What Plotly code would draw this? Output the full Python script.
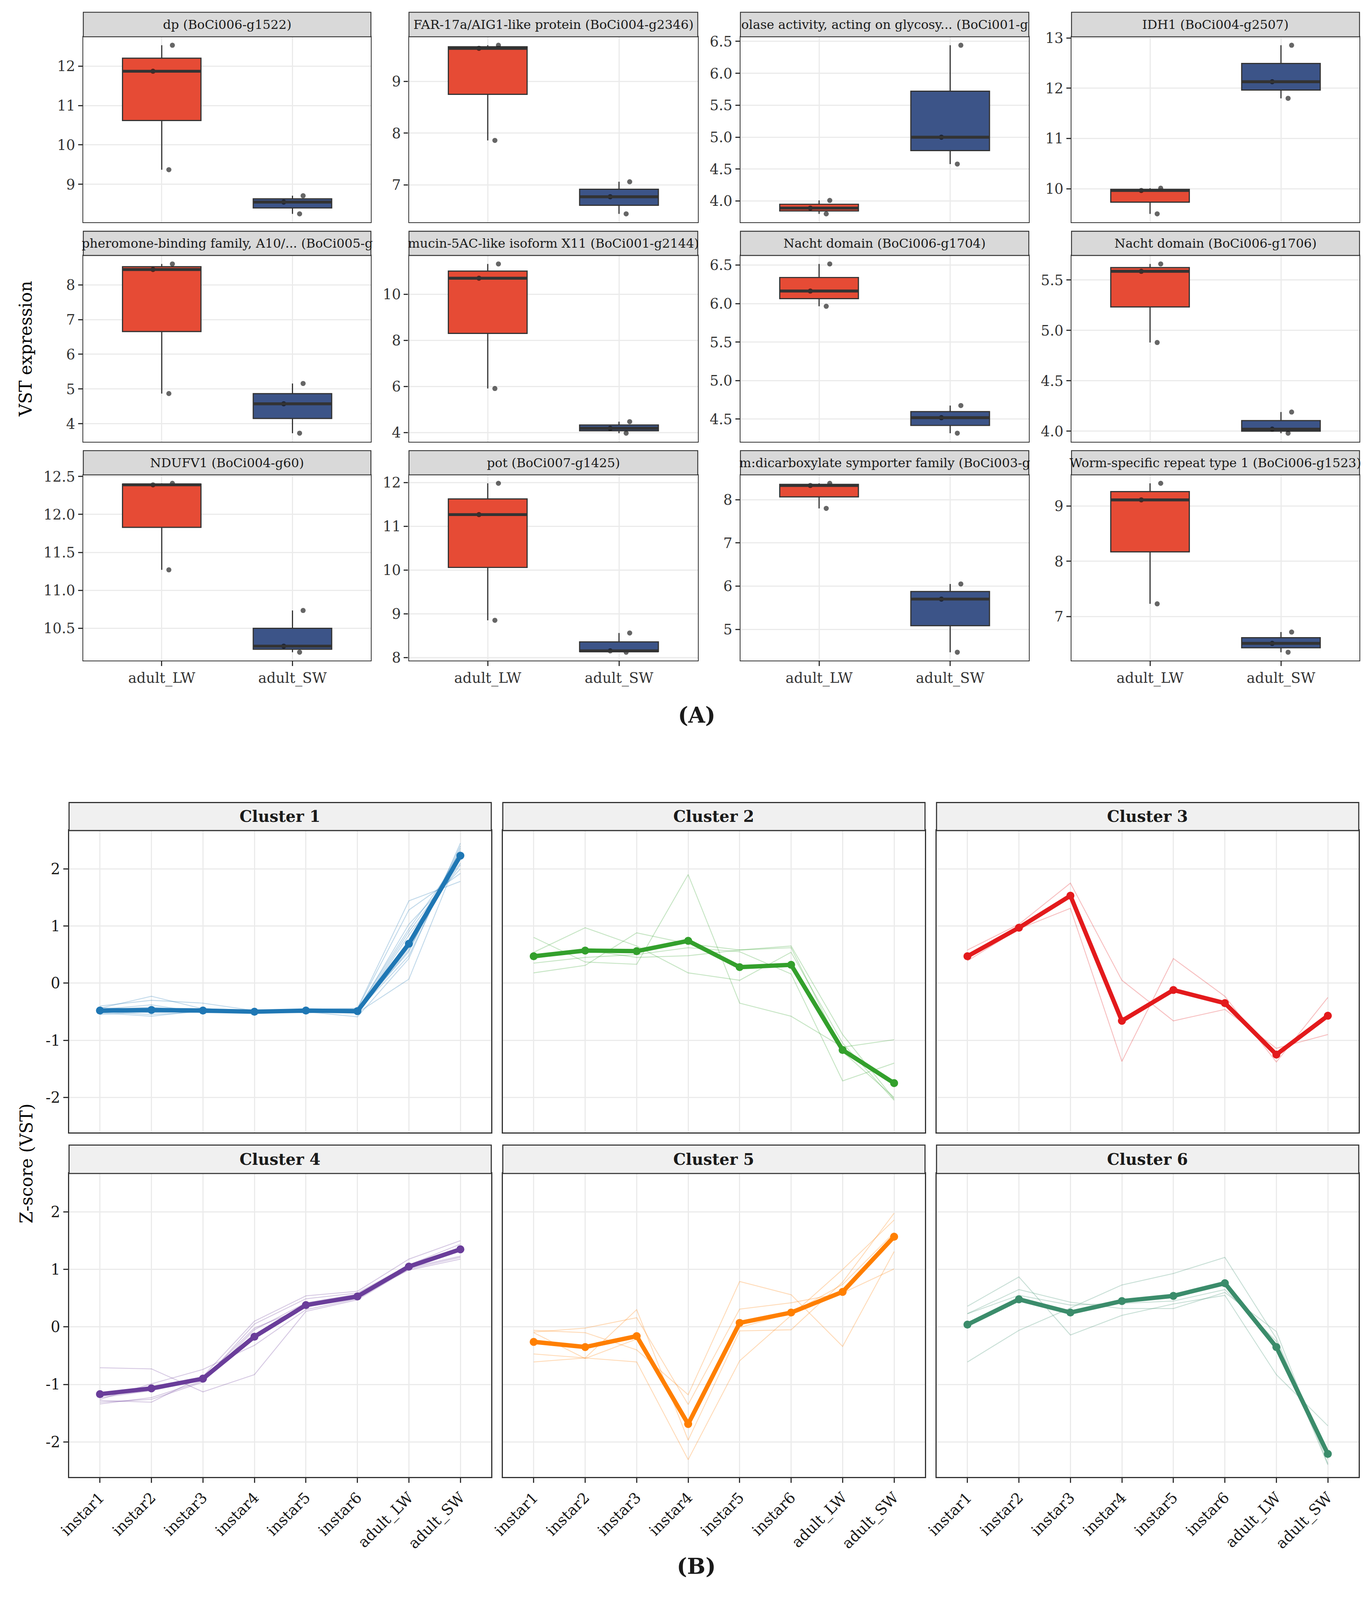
import numpy as np
import plotly.graph_objects as go

# Reference layout grid (all positions below are given in this 3506 x 4536 frame
# and converted to paper fractions, so the figure can be sized to fit the window)
W, H = 3506, 4536
FIG_W, FIG_H = 3480, 4050
S = 0.93   # scale for line widths / marker sizes
SF = 0.96  # scale for font sizes
FONT = "DejaVu Serif"

# ---------------- Panel A data ----------------
GROUPS = ["adult_LW", "adult_SW"]
GENE_TITLES = [
    "dp (BoCi006-g1522)",
    "FAR-17a/AIG1-like protein (BoCi004-g2346)",
    "olase activity, acting on glycosy... (BoCi001-g",
    "IDH1 (BoCi004-g2507)",
    "pheromone-binding family, A10/... (BoCi005-g",
    "mucin-5AC-like isoform X11 (BoCi001-g2144)",
    "Nacht domain (BoCi006-g1704)",
    "Nacht domain (BoCi006-g1706)",
    "NDUFV1 (BoCi004-g60)",
    "pot (BoCi007-g1425)",
    "m:dicarboxylate symporter family (BoCi003-g",
    "Worm-specific repeat type 1 (BoCi006-g1523)",
]
LW_VST = [
    [9.37, 11.87, 12.53],
    [7.86, 9.64, 9.70],
    [3.80, 3.89, 4.01],
    [9.50, 9.965, 10.01],
    [4.87, 8.44, 8.60],
    [5.91, 10.70, 11.32],
    [5.965, 6.163, 6.515],
    [4.88, 5.587, 5.66],
    [11.27, 12.39, 12.41],
    [8.85, 11.265, 11.98],
    [7.80, 8.33, 8.38],
    [7.23, 9.11, 9.41],
]
SW_VST = [
    [8.25, 8.55, 8.71],
    [6.44, 6.77, 7.06],
    [4.58, 5.00, 6.44],
    [11.80, 12.13, 12.857],
    [3.73, 4.575, 5.16],
    [3.97, 4.18, 4.47],
    [4.317, 4.518, 4.676],
    [3.98, 4.02, 4.19],
    [10.185, 10.265, 10.735],
    [8.12, 8.15, 8.56],
    [4.47, 5.70, 6.05],
    [6.355, 6.515, 6.72],
]
TICK_STEP = [1, 1, 0.5, 1, 1, 2, 0.5, 0.5, 0.5, 1, 1, 1]

# ---------------- Panel B data ----------------
STAGES = ["instar1", "instar2", "instar3", "instar4", "instar5", "instar6", "adult_LW", "adult_SW"]
CLUSTER_NAMES = ["Cluster 1", "Cluster 2", "Cluster 3", "Cluster 4", "Cluster 5", "Cluster 6"]

CLUSTER1_MEAN = [-0.48, -0.47, -0.48, -0.50, -0.48, -0.49, 0.69, 2.23]
CLUSTER1_GENES = [
    [-0.44, -0.23, -0.45, -0.47, -0.46, -0.44, 1.44, 1.78],
    [-0.40, -0.30, -0.35, -0.48, -0.47, -0.45, 1.28, 1.92],
    [-0.50, -0.55, -0.50, -0.50, -0.46, -0.52, 0.07, 2.30],
    [-0.52, -0.58, -0.48, -0.52, -0.50, -0.59, 0.43, 2.45],
    [-0.47, -0.42, -0.50, -0.51, -0.48, -0.49, 0.48, 2.36],
    [-0.55, -0.50, -0.47, -0.49, -0.45, -0.50, 0.58, 2.28],
    [-0.46, -0.38, -0.52, -0.50, -0.49, -0.47, 0.69, 2.17],
    [-0.49, -0.47, -0.46, -0.53, -0.47, -0.50, 0.84, 2.07],
    [-0.45, -0.52, -0.49, -0.48, -0.50, -0.46, 0.95, 2.20],
    [-0.51, -0.45, -0.47, -0.52, -0.51, -0.48, 1.03, 2.00],
    [-0.48, -0.49, -0.51, -0.49, -0.47, -0.51, 0.62, 2.25],
    [-0.43, -0.46, -0.48, -0.50, -0.49, -0.53, 0.75, 2.32],
    [-0.53, -0.44, -0.49, -0.47, -0.48, -0.48, 0.55, 2.40],
    [-0.47, -0.50, -0.44, -0.51, -0.52, -0.49, 0.90, 2.10],
]
CLUSTER2_MEAN = [0.47, 0.57, 0.56, 0.74, 0.28, 0.32, -1.17, -1.75]
CLUSTER2_GENES = [
    [0.80, 0.37, 0.33, 1.90, -0.35, -0.58, -1.12, -0.99],
    [0.54, 0.97, 0.65, 0.18, 0.05, 0.54, -1.05, -2.05],
    [0.18, 0.31, 0.88, 0.69, 0.58, 0.65, -0.90, -2.03],
    [0.43, 0.58, 0.45, 0.48, 0.58, 0.62, -1.20, -2.00],
    [0.35, 0.45, 0.50, 0.62, 0.55, 0.16, -1.71, -1.40],
]
CLUSTER3_MEAN = [0.47, 0.97, 1.53, -0.66, -0.12, -0.35, -1.25, -0.57]
CLUSTER3_GENES = [
    [0.58, 1.03, 1.75, 0.05, -0.66, -0.46, -1.14, -0.90],
    [0.39, 0.95, 1.31, -1.37, 0.43, -0.23, -1.38, -0.25],
    [0.45, 0.97, 1.53, -0.64, -0.13, -0.36, -1.22, -0.56],
]
CLUSTER4_MEAN = [-1.17, -1.07, -0.90, -0.17, 0.38, 0.53, 1.05, 1.35]
CLUSTER4_GENES = [
    [-0.71, -0.73, -1.13, -0.83, 0.27, 0.47, 1.01, 1.21],
    [-1.28, -1.31, -0.86, 0.10, 0.54, 0.62, 1.18, 1.50],
    [-1.34, -1.23, -0.94, 0.05, 0.49, 0.59, 1.08, 1.44],
    [-1.26, -0.99, -0.74, -0.32, 0.30, 0.49, 1.03, 1.23],
    [-1.31, -1.26, -0.96, -0.05, 0.42, 0.57, 1.06, 1.33],
    [-1.23, -1.11, -0.91, -0.02, 0.34, 0.54, 0.99, 1.18],
]
CLUSTER5_MEAN = [-0.26, -0.35, -0.16, -1.69, 0.07, 0.25, 0.61, 1.57]
CLUSTER5_GENES = [
    [-0.06, -0.10, -0.40, -1.18, 0.79, 0.56, -0.34, 1.31],
    [-0.09, -0.02, 0.16, -1.35, 0.31, 0.42, 0.59, 1.01],
    [-0.47, -0.54, 0.30, -1.97, -0.07, -0.05, 0.78, 1.98],
    [-0.61, -0.54, -0.61, -2.31, -0.59, 0.20, 1.00, 1.86],
    [-0.10, -0.55, -0.21, -1.63, -0.01, 0.24, 0.74, 1.64],
]
CLUSTER6_MEAN = [0.04, 0.48, 0.25, 0.45, 0.54, 0.76, -0.35, -2.21]
CLUSTER6_GENES = [
    [0.36, 0.87, -0.14, 0.20, 0.40, 0.55, -0.83, -1.72],
    [-0.61, -0.06, 0.33, 0.73, 0.93, 1.21, -0.20, -2.30],
    [0.23, 0.65, 0.43, 0.32, 0.32, 0.60, -0.08, -2.38],
    [0.23, 0.55, 0.38, 0.41, 0.45, 0.65, -0.25, -2.40],
]
CLUSTER_MEANS = [CLUSTER1_MEAN, CLUSTER2_MEAN, CLUSTER3_MEAN, CLUSTER4_MEAN, CLUSTER5_MEAN, CLUSTER6_MEAN]
CLUSTER_GENES = [CLUSTER1_GENES, CLUSTER2_GENES, CLUSTER3_GENES, CLUSTER4_GENES, CLUSTER5_GENES, CLUSTER6_GENES]

# ---------------- Styling ----------------
RED, BLUE = "#E64B35", "#3C5488"
CLUSTER_COLORS = ["#1F77B4", "#33A02C", "#E31A1C", "#6A3D9A", "#FF7F00", "#3B8C6B"]
DARK = "#333333"
GRID = "#EBEBEB"

A_COLS = [(178, 926), (1025, 1776), (1887, 2637), (2748, 3497)]
A_ROWS = [(6, 77, 613), (639, 709, 1247), (1273, 1343, 1880)]
B_COLS = [(141, 1239), (1269, 2367), (2397, 3495)]
B_ROWS = [(2290, 2371, 3243), (3280, 3362, 4239)]


def xd(x0, x1):
    return [x0 / W, x1 / W]


def yd(y0, y1):
    return [1 - y1 / H, 1 - y0 / H]


def px(v):
    return v * S


def fs(v):
    return v * SF


def rgba(hexc, a):
    h = hexc.lstrip("#")
    return "rgba(%d,%d,%d,%.2f)" % (int(h[0:2], 16), int(h[2:4], 16), int(h[4:6], 16), a)


fig = go.Figure()
layout = {}
shapes = []
annotations = []


def axname(n):
    return ("x" if n == 1 else "x%d" % n), ("y" if n == 1 else "y%d" % n)


# ---------------- Panel A ----------------
for i in range(12):
    n = i + 1
    r, c = divmod(i, 4)
    xa, ya = axname(n)
    for g, vals, col in [(1, LW_VST[i], RED), (2, SW_VST[i], BLUE)]:
        fig.add_trace(go.Box(
            x=[g] * len(vals), y=vals, width=0.6, fillcolor=col,
            line=dict(color=DARK, width=px(3.2)), whiskerwidth=0,
            boxpoints="all", jitter=0.35, pointpos=0, quartilemethod="inclusive",
            marker=dict(color="rgba(0,0,0,0.6)", size=px(14)),
            xaxis=xa, yaxis=ya, showlegend=False, hoverinfo="skip"))
        med = float(np.median(vals))
        fig.add_trace(go.Scatter(
            x=[g - 0.3, g + 0.3], y=[med, med], mode="lines",
            line=dict(color=DARK, width=px(8)), xaxis=xa, yaxis=ya,
            showlegend=False, hoverinfo="skip"))
    allv = LW_VST[i] + SW_VST[i]
    lo, hi = min(allv), max(allv)
    pad = 0.05 * (hi - lo)
    st, sb, pb = A_ROWS[r]
    c0, c1 = A_COLS[c]
    bottom = (r == 2)
    layout["xaxis" + ("" if n == 1 else str(n))] = dict(
        domain=xd(c0, c1), anchor=ya, range=[0.4, 2.6],
        tickvals=[1, 2], ticktext=GROUPS, showticklabels=bottom,
        ticks="outside" if bottom else "", ticklen=px(12), tickwidth=px(3), tickcolor=DARK,
        tickfont=dict(size=fs(38), color=DARK, family=FONT),
        showgrid=True, gridcolor=GRID, gridwidth=px(3.5), zeroline=False,
        showline=True, mirror=True, linecolor=DARK, linewidth=px(2.5))
    step = TICK_STEP[i]
    layout["yaxis" + ("" if n == 1 else str(n))] = dict(
        domain=yd(sb, pb), anchor=xa, range=[lo - pad, hi + pad],
        tick0=0, dtick=step, tickformat=".1f" if step < 1 else "d",
        ticks="outside", ticklen=px(12), tickwidth=px(3), tickcolor=DARK,
        tickfont=dict(size=fs(38), color=DARK, family=FONT),
        showgrid=True, gridcolor=GRID, gridwidth=px(3.5), zeroline=False,
        showline=True, mirror=True, linecolor=DARK, linewidth=px(2.5))
    shapes.append(dict(type="rect", xref="paper", yref="paper",
                       x0=c0 / W, x1=c1 / W, y0=1 - sb / H, y1=1 - st / H,
                       fillcolor="#D9D9D9", line=dict(color=DARK, width=px(2.5))))
    annotations.append(dict(text=GENE_TITLES[i], xref="paper", yref="paper",
                            x=(c0 + c1) / 2 / W, y=1 - (st + sb) / 2 / H,
                            xanchor="center", yanchor="middle", showarrow=False,
                            font=dict(size=fs(33.5), color="#1A1A1A", family=FONT)))

# ---------------- Panel B ----------------
xpos = list(range(1, len(STAGES) + 1))
for k in range(6):
    n = 13 + k
    r, c = divmod(k, 3)
    xa, ya = axname(n)
    col = CLUSTER_COLORS[k]
    for gene in CLUSTER_GENES[k]:
        fig.add_trace(go.Scatter(
            x=xpos, y=gene, mode="lines", line=dict(color=rgba(col, 0.28), width=px(2.5)),
            xaxis=xa, yaxis=ya, showlegend=False, hoverinfo="skip"))
    fig.add_trace(go.Scatter(
        x=xpos, y=CLUSTER_MEANS[k], mode="lines+markers",
        line=dict(color=col, width=px(12)), marker=dict(color=col, size=px(22)),
        xaxis=xa, yaxis=ya, showlegend=False, hoverinfo="skip"))
    st, sb, pb = B_ROWS[r]
    c0, c1 = B_COLS[c]
    bottom = (r == 1)
    left = (c == 0)
    layout["xaxis%d" % n] = dict(
        domain=xd(c0, c1), anchor=ya, range=[0.4, 8.6],
        tickvals=xpos, ticktext=STAGES, showticklabels=bottom, tickangle=-45,
        ticks="outside" if bottom else "", ticklen=px(13), tickwidth=px(3), tickcolor=DARK,
        tickfont=dict(size=fs(40), color="#1A1A1A", family=FONT),
        showgrid=True, gridcolor=GRID, gridwidth=px(3.5), zeroline=False,
        showline=True, mirror=True, linecolor=DARK, linewidth=px(3))
    layout["yaxis%d" % n] = dict(
        domain=yd(sb, pb), anchor=xa, range=[-2.61, 2.67],
        tickvals=[-2, -1, 0, 1, 2], ticktext=["-2", "-1", "0", "1", "2"],
        showticklabels=left, ticks="outside" if left else "",
        ticklen=px(13), tickwidth=px(3), tickcolor=DARK,
        tickfont=dict(size=fs(40), color="#1A1A1A", family=FONT),
        showgrid=True, gridcolor=GRID, gridwidth=px(3.5), zeroline=False,
        showline=True, mirror=True, linecolor=DARK, linewidth=px(3))
    shapes.append(dict(type="rect", xref="paper", yref="paper",
                       x0=c0 / W, x1=c1 / W, y0=1 - sb / H, y1=1 - st / H,
                       fillcolor="#F0F0F0", line=dict(color=DARK, width=px(3))))
    annotations.append(dict(text="<b>%s</b>" % CLUSTER_NAMES[k], xref="paper", yref="paper",
                            x=(c0 + c1) / 2 / W, y=1 - (st + sb) / 2 / H,
                            xanchor="center", yanchor="middle", showarrow=False,
                            font=dict(size=fs(42), color="#1A1A1A", family=FONT)))

# ---------------- Titles ----------------
annotations += [
    dict(text="VST expression", xref="paper", yref="paper", x=28 / W, y=1 - 979 / H,
         textangle=-90, showarrow=False, xanchor="center", yanchor="middle",
         font=dict(size=fs(46), color="black", family=FONT)),
    dict(text="Z-score (VST)", xref="paper", yref="paper", x=30 / W, y=1 - 3333 / H,
         textangle=-90, showarrow=False, xanchor="center", yanchor="middle",
         font=dict(size=fs(46), color="black", family=FONT)),
    dict(text="<b>(A)</b>", xref="paper", yref="paper", x=1773 / W, y=1 - 2037 / H,
         showarrow=False, xanchor="center", yanchor="middle",
         font=dict(size=fs(58), color="#1A1A1A", family=FONT)),
    dict(text="<b>(B)</b>", xref="paper", yref="paper", x=1772 / W, y=1 - 4497 / H,
         showarrow=False, xanchor="center", yanchor="middle",
         font=dict(size=fs(58), color="#1A1A1A", family=FONT)),
]

fig.update_layout(
    width=FIG_W, height=FIG_H, margin=dict(l=0, r=0, t=0, b=0),
    paper_bgcolor="white", plot_bgcolor="white",
    font=dict(family=FONT, color="#1A1A1A"),
    boxmode="overlay", showlegend=False,
    shapes=shapes, annotations=annotations, **layout)

fig.write_html("out.html")
